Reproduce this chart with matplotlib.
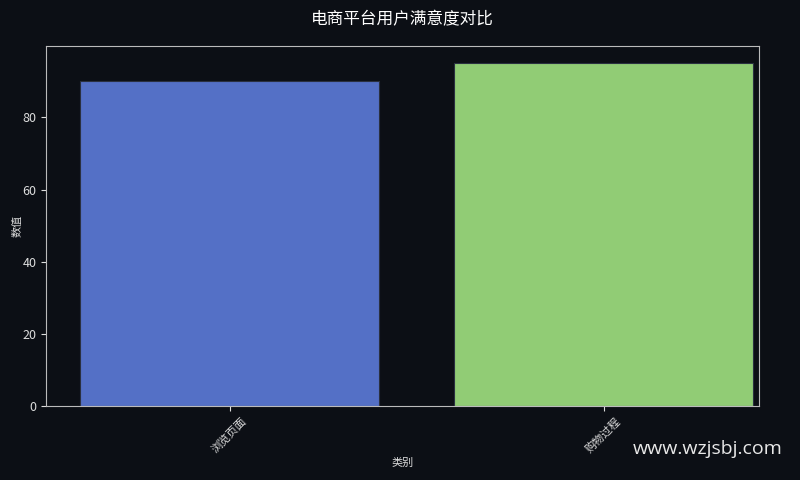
import matplotlib
matplotlib.use("Agg")
import matplotlib.pyplot as plt

plt.rcParams['font.family'] = ['Noto Sans CJK SC', 'DejaVu Sans']

categories = ['浏览页面', '购物过程']
values = [90, 95]
colors = ['#5470c6', '#91cc75']

bg = '#0c0f15'
fig, ax = plt.subplots(figsize=(8, 4.8), dpi=100)
fig.patch.set_facecolor(bg)
ax.set_facecolor(bg)

ax.bar(categories, values, color=colors, width=0.8, edgecolor='#2a3040', linewidth=0.8)
ax.set_xlim(-0.491, 1.416)

ax.set_title('电商平台用户满意度对比', color='white', fontsize=12, pad=16)
ax.set_xlabel('类别', color='#dddddd', fontsize=8, labelpad=2)
ax.set_ylabel('数值', color='#dddddd', fontsize=8, labelpad=0)
ax.tick_params(colors='#dddddd', labelsize=9)
ax.tick_params(axis='x', labelsize=8)
plt.setp(ax.get_xticklabels(), rotation=45)
for s in ax.spines.values():
    s.set_color('#bbbbbb')

fig.subplots_adjust(left=0.0575, right=0.949, top=0.904, bottom=0.154)
fig.text(0.978, 0.065, 'www.wzjsbj.com', color='#e8e8e8', fontsize=14,
         ha='right', va='center', family=['Open Sans', 'DejaVu Sans'])

fig.savefig('out.png', dpi=100, facecolor=bg)
